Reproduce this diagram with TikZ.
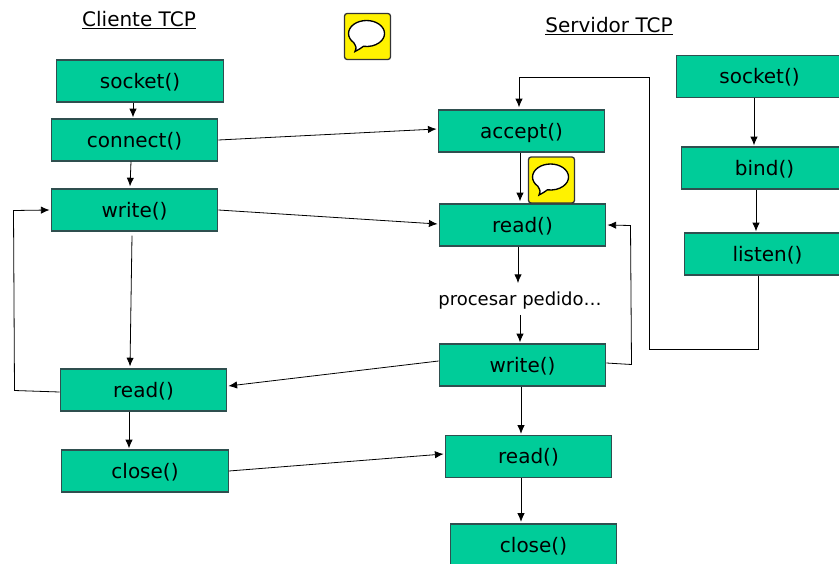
\documentclass[tikz,border=0pt]{standalone}
\usepackage{fontspec}
\setmainfont{DejaVu Sans}
\usetikzlibrary{calc,arrows.meta}
\definecolor{boxgreen}{HTML}{00CC99}
\definecolor{boxedge}{HTML}{2F4F4F}
\tikzset{
	fnbox/.style={draw=boxedge,fill=boxgreen,line width=0.9pt,minimum width=125pt,minimum height=31.5pt,inner sep=0pt,text height=13.5pt,text depth=3pt,font=\fontsize{15}{17}\selectfont},
	flow/.style={-{Latex[length=6.5pt,width=5.5pt]},line width=0.6pt},
	title/.style={font=\fontsize{15}{17}\selectfont},
	iconbox/.style={draw=black!80,fill=yellow,line width=1pt,rounded corners=2pt,minimum width=34.5pt,minimum height=34.5pt,inner sep=0pt},
	bubble/.style={draw=black,fill=white,line width=1pt}
}
\newcommand{\chaticon}[2]{
	\node[iconbox] (#1) at (#2) {};
	\draw[bubble,shift={(#1.center)}] (-13.7,6.2) arc[start angle=135,end angle=460,x radius=18,y radius=13] .. controls (-7,12) .. (-12.5,15) .. controls (-11,11) .. cycle;
}
\begin{document}
\begin{tikzpicture}[x=0.75pt,y=-0.75pt]
	\useasboundingbox (0,0) rectangle (839,564);
	% titulos
	\node[title] (clitit) at (139,20) {\underline{Cliente TCP}};
	\node[title] (sertit) at (609,26) {\underline{Servidor TCP}};
	% cliente
	\node[fnbox] (csocket) at (140,81) {socket()};
	\node[fnbox] (cconnect) at (134.5,140) {connect()};
	\node[fnbox] (cwrite) at (134.5,210) {write()};
	\node[fnbox] (cread) at (143.5,390) {read()};
	\node[fnbox] (cclose) at (145,471) {close()};
	% servidor
	\node[fnbox] (saccept) at (521.5,131) {accept()};
	\node[fnbox] (sread) at (522.5,225) {read()};
	\node (proc) at (520,301) [font=\fontsize{13.5}{16}\selectfont,inner sep=0pt] {procesar pedido…};
	\node[fnbox] (swrite) at (522.5,365) {write()};
	\node[fnbox] (sreadb) at (528.5,456.5) {read()};
	\node[fnbox] (sclose) at (533.5,545) {close()};
	\node[fnbox] (ssocket) at (759.5,76.5) {socket()};
	\node[fnbox] (sbind) at (764.5,168) {bind()};
	\node[fnbox] (slisten) at (767.5,254) {listen()};
	% iconos
	\chaticon{iconc}{367.5,36.5}
	\chaticon{icons}{551.5,180}
	% flechas del cliente
	\draw[flow] ($(csocket.south)+(-7,0)$) -- ($(cconnect.north)+(-1.5,-1)$);
	\draw[flow] ($(cconnect.south)+(-3.5,0)$) -- ($(cwrite.north)+(-4.5,-2)$);
	\draw[flow] ($(cwrite.south)+(-2.5,4)$) -- ($(cread.north)+(-13.5,-2)$);
	\draw[flow] ($(cread.south)+(-14.5,0)$) -- ($(cclose.north)+(-16,-1)$);
	\coordinate (cloopa) at (14.5,390.5);
	\coordinate (cloopb) at (13.5,210.5);
	\draw[flow] ($(cread.west)+(0,2)$) -- (cloopa) -- (cloopb) -- ($(cwrite.west)+(-1,0)$);
	% flechas entre cliente y servidor
	\draw[flow] (cconnect.east) -- ($(saccept.west)+(-1,-2)$);
	\draw[flow] (cwrite.east) -- ($(sread.west)+(-1,-1)$);
	\draw[flow] ($(swrite.west)+(0,-4)$) -- ($(cread.east)+(1,-4)$);
	\draw[flow] (cclose.east) -- ($(sreadb.west)+(-1,-2.5)$);
	% flechas del servidor
	\draw[flow] ($(saccept.south)+(-1.5,0)$) -- ($(sread.north)+(-2.5,-2)$);
	\draw[flow] ($(sread.south)+(-4.5,0)$) -- ($(proc.north)+(-2,-9)$);
	\draw[flow] ($(proc.south)+(0,5)$) -- ($(swrite.north)+(-2.5,-1)$);
	\draw[flow] ($(swrite.south)+(-1.5,0)$) -- ($(sreadb.north)+(-7.5,-1)$);
	\draw[flow] ($(sreadb.south)+(-7.5,0)$) -- ($(sclose.north)+(-12.5,-1.5)$);
	\coordinate (sloopa) at (631.5,364.5);
	\coordinate (sloopb) at (630.5,225.5);
	\draw[flow] ($(swrite.east)+(0,-2)$) -- (sloopa) -- (sloopb) -- ($(sread.east)+(1,0)$);
	\draw[flow] ($(ssocket.south)+(-5.5,0)$) -- ($(sbind.north)+(-10.5,-1)$);
	\draw[flow] ($(sbind.south)+(-8.5,0)$) -- ($(slisten.north)+(-11.5,-1)$);
	\coordinate (lista) at (758,349);
	\coordinate (listb) at (649,349);
	\coordinate (listc) at (649,77);
	\coordinate (listd) at (519,77);
	\draw[flow] ($(slisten.south)+(-9.5,0)$) -- (lista) -- (listb) -- (listc) -- (listd) -- ($(saccept.north)+(-2.5,-2)$);
\end{tikzpicture}
\end{document}
